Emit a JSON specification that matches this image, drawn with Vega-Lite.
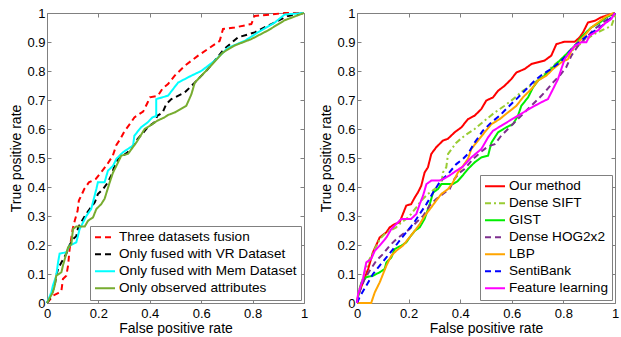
{
  "$schema": "https://vega.github.io/schema/vega-lite/v6.json",
  "padding": {"left": 9, "top": 6, "right": 4, "bottom": 4},
  "config": {
    "font": "Liberation Sans",
    "view": {"stroke": "#808080", "strokeWidth": 1},
    "axis": {"grid": false, "domain": false, "labelFontSize": 13, "titleFontSize": 14, "titleFontWeight": "normal", "labelColor": "#000", "titleColor": "#000", "tickColor": "#808080", "tickSize": -4, "labelPadding": 6, "titlePadding": 3, "labelFlush": false, "labelOverlap": false},
    "axisBottom": {"labelPadding": 8, "titlePadding": 1},
    "legend": {"orient": "bottom-right", "offset": 3, "title": null, "strokeColor": "#808080", "fillColor": "#ffffff", "padding": 4, "labelFontSize": 13.6, "labelColor": "#000", "symbolType": "stroke", "symbolStrokeWidth": 2, "symbolSize": 400, "labelOffset": 3, "rowPadding": 2, "clipHeight": 14.7, "labelLimit": 400}
  },
  "spacing": 53,
  "bounds": "flush",
  "resolve": {"scale": {"color": "independent", "strokeDash": "independent"}, "legend": {"color": "independent", "strokeDash": "independent"}},
  "datasets": {
    "left": [
      {"s":"Three datasets fusion","x":0,"y":0},{"s":"Three datasets fusion","x":0.01,"y":0.01},{"s":"Three datasets fusion","x":0.023,"y":0.025},{"s":"Three datasets fusion","x":0.043,"y":0.034},{"s":"Three datasets fusion","x":0.056,"y":0.042},{"s":"Three datasets fusion","x":0.062,"y":0.083},{"s":"Three datasets fusion","x":0.075,"y":0.094},{"s":"Three datasets fusion","x":0.082,"y":0.129},{"s":"Three datasets fusion","x":0.088,"y":0.186},{"s":"Three datasets fusion","x":0.1,"y":0.255},{"s":"Three datasets fusion","x":0.108,"y":0.284},{"s":"Three datasets fusion","x":0.119,"y":0.318},{"s":"Three datasets fusion","x":0.124,"y":0.353},{"s":"Three datasets fusion","x":0.145,"y":0.393},{"s":"Three datasets fusion","x":0.163,"y":0.416},{"s":"Three datasets fusion","x":0.19,"y":0.428},{"s":"Three datasets fusion","x":0.215,"y":0.456},{"s":"Three datasets fusion","x":0.235,"y":0.479},{"s":"Three datasets fusion","x":0.256,"y":0.508},{"s":"Three datasets fusion","x":0.27,"y":0.545},{"s":"Three datasets fusion","x":0.285,"y":0.565},{"s":"Three datasets fusion","x":0.3,"y":0.59},{"s":"Three datasets fusion","x":0.327,"y":0.623},{"s":"Three datasets fusion","x":0.34,"y":0.64},{"s":"Three datasets fusion","x":0.36,"y":0.652},{"s":"Three datasets fusion","x":0.374,"y":0.66},{"s":"Three datasets fusion","x":0.392,"y":0.692},{"s":"Three datasets fusion","x":0.4,"y":0.709},{"s":"Three datasets fusion","x":0.432,"y":0.715},{"s":"Three datasets fusion","x":0.45,"y":0.74},{"s":"Three datasets fusion","x":0.471,"y":0.755},{"s":"Three datasets fusion","x":0.497,"y":0.784},{"s":"Three datasets fusion","x":0.536,"y":0.818},{"s":"Three datasets fusion","x":0.588,"y":0.853},{"s":"Three datasets fusion","x":0.626,"y":0.876},{"s":"Three datasets fusion","x":0.672,"y":0.904},{"s":"Three datasets fusion","x":0.685,"y":0.945},{"s":"Three datasets fusion","x":0.73,"y":0.95},{"s":"Three datasets fusion","x":0.795,"y":0.962},{"s":"Three datasets fusion","x":0.808,"y":0.99},{"s":"Three datasets fusion","x":0.873,"y":0.995},{"s":"Three datasets fusion","x":0.925,"y":1},{"s":"Three datasets fusion","x":1,"y":1},
      {"s":"Only fused with VR Dataset","x":0,"y":0},{"s":"Only fused with VR Dataset","x":0.01,"y":0.014},{"s":"Only fused with VR Dataset","x":0.03,"y":0.06},{"s":"Only fused with VR Dataset","x":0.036,"y":0.094},{"s":"Only fused with VR Dataset","x":0.043,"y":0.117},{"s":"Only fused with VR Dataset","x":0.056,"y":0.14},{"s":"Only fused with VR Dataset","x":0.075,"y":0.17},{"s":"Only fused with VR Dataset","x":0.088,"y":0.2},{"s":"Only fused with VR Dataset","x":0.101,"y":0.22},{"s":"Only fused with VR Dataset","x":0.114,"y":0.23},{"s":"Only fused with VR Dataset","x":0.121,"y":0.26},{"s":"Only fused with VR Dataset","x":0.133,"y":0.278},{"s":"Only fused with VR Dataset","x":0.147,"y":0.3},{"s":"Only fused with VR Dataset","x":0.166,"y":0.324},{"s":"Only fused with VR Dataset","x":0.186,"y":0.347},{"s":"Only fused with VR Dataset","x":0.198,"y":0.376},{"s":"Only fused with VR Dataset","x":0.218,"y":0.393},{"s":"Only fused with VR Dataset","x":0.237,"y":0.416},{"s":"Only fused with VR Dataset","x":0.25,"y":0.44},{"s":"Only fused with VR Dataset","x":0.263,"y":0.473},{"s":"Only fused with VR Dataset","x":0.276,"y":0.497},{"s":"Only fused with VR Dataset","x":0.296,"y":0.508},{"s":"Only fused with VR Dataset","x":0.314,"y":0.52},{"s":"Only fused with VR Dataset","x":0.34,"y":0.548},{"s":"Only fused with VR Dataset","x":0.353,"y":0.566},{"s":"Only fused with VR Dataset","x":0.37,"y":0.583},{"s":"Only fused with VR Dataset","x":0.392,"y":0.606},{"s":"Only fused with VR Dataset","x":0.418,"y":0.623},{"s":"Only fused with VR Dataset","x":0.43,"y":0.646},{"s":"Only fused with VR Dataset","x":0.45,"y":0.657},{"s":"Only fused with VR Dataset","x":0.464,"y":0.686},{"s":"Only fused with VR Dataset","x":0.484,"y":0.703},{"s":"Only fused with VR Dataset","x":0.536,"y":0.726},{"s":"Only fused with VR Dataset","x":0.575,"y":0.76},{"s":"Only fused with VR Dataset","x":0.626,"y":0.807},{"s":"Only fused with VR Dataset","x":0.69,"y":0.876},{"s":"Only fused with VR Dataset","x":0.743,"y":0.916},{"s":"Only fused with VR Dataset","x":0.808,"y":0.933},{"s":"Only fused with VR Dataset","x":0.873,"y":0.962},{"s":"Only fused with VR Dataset","x":0.938,"y":0.99},{"s":"Only fused with VR Dataset","x":1,"y":1},
      {"s":"Only fused with Mem Dataset","x":0,"y":0},{"s":"Only fused with Mem Dataset","x":0.017,"y":0.037},{"s":"Only fused with Mem Dataset","x":0.023,"y":0.06},{"s":"Only fused with Mem Dataset","x":0.036,"y":0.094},{"s":"Only fused with Mem Dataset","x":0.043,"y":0.14},{"s":"Only fused with Mem Dataset","x":0.049,"y":0.17},{"s":"Only fused with Mem Dataset","x":0.075,"y":0.175},{"s":"Only fused with Mem Dataset","x":0.088,"y":0.198},{"s":"Only fused with Mem Dataset","x":0.114,"y":0.209},{"s":"Only fused with Mem Dataset","x":0.127,"y":0.255},{"s":"Only fused with Mem Dataset","x":0.153,"y":0.3},{"s":"Only fused with Mem Dataset","x":0.172,"y":0.324},{"s":"Only fused with Mem Dataset","x":0.192,"y":0.393},{"s":"Only fused with Mem Dataset","x":0.198,"y":0.416},{"s":"Only fused with Mem Dataset","x":0.224,"y":0.416},{"s":"Only fused with Mem Dataset","x":0.237,"y":0.456},{"s":"Only fused with Mem Dataset","x":0.257,"y":0.473},{"s":"Only fused with Mem Dataset","x":0.27,"y":0.497},{"s":"Only fused with Mem Dataset","x":0.296,"y":0.52},{"s":"Only fused with Mem Dataset","x":0.335,"y":0.543},{"s":"Only fused with Mem Dataset","x":0.34,"y":0.577},{"s":"Only fused with Mem Dataset","x":0.366,"y":0.606},{"s":"Only fused with Mem Dataset","x":0.392,"y":0.623},{"s":"Only fused with Mem Dataset","x":0.41,"y":0.64},{"s":"Only fused with Mem Dataset","x":0.425,"y":0.645},{"s":"Only fused with Mem Dataset","x":0.425,"y":0.703},{"s":"Only fused with Mem Dataset","x":0.471,"y":0.715},{"s":"Only fused with Mem Dataset","x":0.51,"y":0.76},{"s":"Only fused with Mem Dataset","x":0.562,"y":0.784},{"s":"Only fused with Mem Dataset","x":0.6,"y":0.8},{"s":"Only fused with Mem Dataset","x":0.652,"y":0.835},{"s":"Only fused with Mem Dataset","x":0.704,"y":0.88},{"s":"Only fused with Mem Dataset","x":0.77,"y":0.904},{"s":"Only fused with Mem Dataset","x":0.82,"y":0.933},{"s":"Only fused with Mem Dataset","x":0.886,"y":0.967},{"s":"Only fused with Mem Dataset","x":0.925,"y":0.995},{"s":"Only fused with Mem Dataset","x":1,"y":1},
      {"s":"Only observed attributes","x":0,"y":0},{"s":"Only observed attributes","x":0.023,"y":0.037},{"s":"Only observed attributes","x":0.03,"y":0.06},{"s":"Only observed attributes","x":0.036,"y":0.094},{"s":"Only observed attributes","x":0.056,"y":0.106},{"s":"Only observed attributes","x":0.062,"y":0.129},{"s":"Only observed attributes","x":0.082,"y":0.192},{"s":"Only observed attributes","x":0.095,"y":0.203},{"s":"Only observed attributes","x":0.101,"y":0.255},{"s":"Only observed attributes","x":0.114,"y":0.264},{"s":"Only observed attributes","x":0.147,"y":0.264},{"s":"Only observed attributes","x":0.16,"y":0.284},{"s":"Only observed attributes","x":0.179,"y":0.295},{"s":"Only observed attributes","x":0.192,"y":0.324},{"s":"Only observed attributes","x":0.211,"y":0.341},{"s":"Only observed attributes","x":0.224,"y":0.359},{"s":"Only observed attributes","x":0.244,"y":0.416},{"s":"Only observed attributes","x":0.257,"y":0.45},{"s":"Only observed attributes","x":0.27,"y":0.473},{"s":"Only observed attributes","x":0.289,"y":0.508},{"s":"Only observed attributes","x":0.315,"y":0.514},{"s":"Only observed attributes","x":0.348,"y":0.554},{"s":"Only observed attributes","x":0.38,"y":0.6},{"s":"Only observed attributes","x":0.4,"y":0.611},{"s":"Only observed attributes","x":0.43,"y":0.629},{"s":"Only observed attributes","x":0.457,"y":0.64},{"s":"Only observed attributes","x":0.47,"y":0.648},{"s":"Only observed attributes","x":0.497,"y":0.657},{"s":"Only observed attributes","x":0.542,"y":0.68},{"s":"Only observed attributes","x":0.562,"y":0.72},{"s":"Only observed attributes","x":0.575,"y":0.76},{"s":"Only observed attributes","x":0.626,"y":0.807},{"s":"Only observed attributes","x":0.685,"y":0.864},{"s":"Only observed attributes","x":0.73,"y":0.888},{"s":"Only observed attributes","x":0.795,"y":0.91},{"s":"Only observed attributes","x":0.86,"y":0.94},{"s":"Only observed attributes","x":0.925,"y":0.975},{"s":"Only observed attributes","x":1,"y":1}
    ],
    "right": [
      {"s":"Our method","x":0,"y":0},{"s":"Our method","x":0.004,"y":0.025},{"s":"Our method","x":0.023,"y":0.071},{"s":"Our method","x":0.043,"y":0.117},{"s":"Our method","x":0.062,"y":0.175},{"s":"Our method","x":0.088,"y":0.226},{"s":"Our method","x":0.114,"y":0.244},{"s":"Our method","x":0.127,"y":0.261},{"s":"Our method","x":0.146,"y":0.272},{"s":"Our method","x":0.165,"y":0.278},{"s":"Our method","x":0.178,"y":0.307},{"s":"Our method","x":0.191,"y":0.336},{"s":"Our method","x":0.21,"y":0.341},{"s":"Our method","x":0.224,"y":0.364},{"s":"Our method","x":0.236,"y":0.381},{"s":"Our method","x":0.249,"y":0.404},{"s":"Our method","x":0.262,"y":0.45},{"s":"Our method","x":0.275,"y":0.468},{"s":"Our method","x":0.288,"y":0.514},{"s":"Our method","x":0.307,"y":0.537},{"s":"Our method","x":0.333,"y":0.56},{"s":"Our method","x":0.352,"y":0.566},{"s":"Our method","x":0.379,"y":0.589},{"s":"Our method","x":0.405,"y":0.606},{"s":"Our method","x":0.43,"y":0.634},{"s":"Our method","x":0.456,"y":0.646},{"s":"Our method","x":0.482,"y":0.669},{"s":"Our method","x":0.501,"y":0.698},{"s":"Our method","x":0.527,"y":0.709},{"s":"Our method","x":0.547,"y":0.732},{"s":"Our method","x":0.572,"y":0.749},{"s":"Our method","x":0.598,"y":0.772},{"s":"Our method","x":0.618,"y":0.795},{"s":"Our method","x":0.65,"y":0.807},{"s":"Our method","x":0.676,"y":0.824},{"s":"Our method","x":0.702,"y":0.83},{"s":"Our method","x":0.727,"y":0.836},{"s":"Our method","x":0.753,"y":0.853},{"s":"Our method","x":0.773,"y":0.893},{"s":"Our method","x":0.805,"y":0.901},{"s":"Our method","x":0.844,"y":0.901},{"s":"Our method","x":0.863,"y":0.916},{"s":"Our method","x":0.876,"y":0.933},{"s":"Our method","x":0.895,"y":0.967},{"s":"Our method","x":0.921,"y":0.973},{"s":"Our method","x":0.946,"y":0.985},{"s":"Our method","x":0.986,"y":0.997},{"s":"Our method","x":1,"y":1},
      {"s":"Dense SIFT","x":0,"y":0},{"s":"Dense SIFT","x":0.01,"y":0.05},{"s":"Dense SIFT","x":0.03,"y":0.106},{"s":"Dense SIFT","x":0.049,"y":0.152},{"s":"Dense SIFT","x":0.069,"y":0.186},{"s":"Dense SIFT","x":0.088,"y":0.22},{"s":"Dense SIFT","x":0.107,"y":0.238},{"s":"Dense SIFT","x":0.127,"y":0.249},{"s":"Dense SIFT","x":0.152,"y":0.261},{"s":"Dense SIFT","x":0.172,"y":0.278},{"s":"Dense SIFT","x":0.191,"y":0.29},{"s":"Dense SIFT","x":0.21,"y":0.307},{"s":"Dense SIFT","x":0.23,"y":0.33},{"s":"Dense SIFT","x":0.249,"y":0.353},{"s":"Dense SIFT","x":0.275,"y":0.376},{"s":"Dense SIFT","x":0.301,"y":0.393},{"s":"Dense SIFT","x":0.327,"y":0.41},{"s":"Dense SIFT","x":0.333,"y":0.45},{"s":"Dense SIFT","x":0.346,"y":0.468},{"s":"Dense SIFT","x":0.353,"y":0.514},{"s":"Dense SIFT","x":0.385,"y":0.553},{"s":"Dense SIFT","x":0.417,"y":0.577},{"s":"Dense SIFT","x":0.456,"y":0.6},{"s":"Dense SIFT","x":0.495,"y":0.629},{"s":"Dense SIFT","x":0.534,"y":0.657},{"s":"Dense SIFT","x":0.572,"y":0.68},{"s":"Dense SIFT","x":0.605,"y":0.703},{"s":"Dense SIFT","x":0.643,"y":0.732},{"s":"Dense SIFT","x":0.682,"y":0.755},{"s":"Dense SIFT","x":0.721,"y":0.784},{"s":"Dense SIFT","x":0.76,"y":0.818},{"s":"Dense SIFT","x":0.792,"y":0.841},{"s":"Dense SIFT","x":0.824,"y":0.864},{"s":"Dense SIFT","x":0.857,"y":0.887},{"s":"Dense SIFT","x":0.889,"y":0.91},{"s":"Dense SIFT","x":0.921,"y":0.928},{"s":"Dense SIFT","x":0.96,"y":0.945},{"s":"Dense SIFT","x":0.986,"y":0.955},{"s":"Dense SIFT","x":1,"y":0.99},{"s":"Dense SIFT","x":1,"y":1},
      {"s":"GIST","x":0,"y":0},{"s":"GIST","x":0.004,"y":0.02},{"s":"GIST","x":0.017,"y":0.071},{"s":"GIST","x":0.036,"y":0.089},{"s":"GIST","x":0.062,"y":0.094},{"s":"GIST","x":0.088,"y":0.106},{"s":"GIST","x":0.107,"y":0.117},{"s":"GIST","x":0.114,"y":0.14},{"s":"GIST","x":0.133,"y":0.157},{"s":"GIST","x":0.146,"y":0.186},{"s":"GIST","x":0.172,"y":0.198},{"s":"GIST","x":0.191,"y":0.209},{"s":"GIST","x":0.204,"y":0.226},{"s":"GIST","x":0.224,"y":0.249},{"s":"GIST","x":0.243,"y":0.261},{"s":"GIST","x":0.262,"y":0.29},{"s":"GIST","x":0.282,"y":0.341},{"s":"GIST","x":0.295,"y":0.381},{"s":"GIST","x":0.314,"y":0.393},{"s":"GIST","x":0.327,"y":0.41},{"s":"GIST","x":0.372,"y":0.41},{"s":"GIST","x":0.39,"y":0.42},{"s":"GIST","x":0.41,"y":0.44},{"s":"GIST","x":0.43,"y":0.462},{"s":"GIST","x":0.456,"y":0.485},{"s":"GIST","x":0.482,"y":0.502},{"s":"GIST","x":0.508,"y":0.508},{"s":"GIST","x":0.521,"y":0.553},{"s":"GIST","x":0.547,"y":0.589},{"s":"GIST","x":0.579,"y":0.606},{"s":"GIST","x":0.605,"y":0.617},{"s":"GIST","x":0.624,"y":0.646},{"s":"GIST","x":0.637,"y":0.68},{"s":"GIST","x":0.663,"y":0.709},{"s":"GIST","x":0.682,"y":0.743},{"s":"GIST","x":0.702,"y":0.767},{"s":"GIST","x":0.727,"y":0.784},{"s":"GIST","x":0.753,"y":0.807},{"s":"GIST","x":0.786,"y":0.836},{"s":"GIST","x":0.818,"y":0.864},{"s":"GIST","x":0.844,"y":0.887},{"s":"GIST","x":0.863,"y":0.91},{"s":"GIST","x":0.882,"y":0.928},{"s":"GIST","x":0.908,"y":0.95},{"s":"GIST","x":0.941,"y":0.967},{"s":"GIST","x":0.966,"y":0.985},{"s":"GIST","x":1,"y":1},
      {"s":"Dense HOG2x2","x":0,"y":0},{"s":"Dense HOG2x2","x":0.01,"y":0.04},{"s":"Dense HOG2x2","x":0.03,"y":0.083},{"s":"Dense HOG2x2","x":0.049,"y":0.111},{"s":"Dense HOG2x2","x":0.075,"y":0.146},{"s":"Dense HOG2x2","x":0.101,"y":0.169},{"s":"Dense HOG2x2","x":0.127,"y":0.198},{"s":"Dense HOG2x2","x":0.152,"y":0.22},{"s":"Dense HOG2x2","x":0.178,"y":0.238},{"s":"Dense HOG2x2","x":0.204,"y":0.255},{"s":"Dense HOG2x2","x":0.23,"y":0.278},{"s":"Dense HOG2x2","x":0.256,"y":0.3},{"s":"Dense HOG2x2","x":0.282,"y":0.336},{"s":"Dense HOG2x2","x":0.307,"y":0.359},{"s":"Dense HOG2x2","x":0.333,"y":0.376},{"s":"Dense HOG2x2","x":0.359,"y":0.393},{"s":"Dense HOG2x2","x":0.378,"y":0.428},{"s":"Dense HOG2x2","x":0.398,"y":0.45},{"s":"Dense HOG2x2","x":0.417,"y":0.462},{"s":"Dense HOG2x2","x":0.45,"y":0.497},{"s":"Dense HOG2x2","x":0.482,"y":0.522},{"s":"Dense HOG2x2","x":0.508,"y":0.54},{"s":"Dense HOG2x2","x":0.534,"y":0.548},{"s":"Dense HOG2x2","x":0.559,"y":0.577},{"s":"Dense HOG2x2","x":0.585,"y":0.6},{"s":"Dense HOG2x2","x":0.611,"y":0.623},{"s":"Dense HOG2x2","x":0.637,"y":0.646},{"s":"Dense HOG2x2","x":0.669,"y":0.675},{"s":"Dense HOG2x2","x":0.702,"y":0.703},{"s":"Dense HOG2x2","x":0.727,"y":0.726},{"s":"Dense HOG2x2","x":0.76,"y":0.761},{"s":"Dense HOG2x2","x":0.786,"y":0.784},{"s":"Dense HOG2x2","x":0.811,"y":0.813},{"s":"Dense HOG2x2","x":0.831,"y":0.853},{"s":"Dense HOG2x2","x":0.857,"y":0.887},{"s":"Dense HOG2x2","x":0.889,"y":0.916},{"s":"Dense HOG2x2","x":0.921,"y":0.945},{"s":"Dense HOG2x2","x":0.953,"y":0.967},{"s":"Dense HOG2x2","x":0.979,"y":0.985},{"s":"Dense HOG2x2","x":1,"y":1},
      {"s":"LBP","x":0,"y":0},{"s":"LBP","x":0.055,"y":0},{"s":"LBP","x":0.069,"y":0.037},{"s":"LBP","x":0.088,"y":0.071},{"s":"LBP","x":0.101,"y":0.1},{"s":"LBP","x":0.114,"y":0.129},{"s":"LBP","x":0.133,"y":0.163},{"s":"LBP","x":0.152,"y":0.18},{"s":"LBP","x":0.178,"y":0.198},{"s":"LBP","x":0.198,"y":0.22},{"s":"LBP","x":0.224,"y":0.249},{"s":"LBP","x":0.243,"y":0.272},{"s":"LBP","x":0.262,"y":0.3},{"s":"LBP","x":0.288,"y":0.33},{"s":"LBP","x":0.307,"y":0.353},{"s":"LBP","x":0.327,"y":0.376},{"s":"LBP","x":0.353,"y":0.393},{"s":"LBP","x":0.372,"y":0.416},{"s":"LBP","x":0.391,"y":0.45},{"s":"LBP","x":0.411,"y":0.473},{"s":"LBP","x":0.43,"y":0.497},{"s":"LBP","x":0.443,"y":0.531},{"s":"LBP","x":0.469,"y":0.56},{"s":"LBP","x":0.495,"y":0.589},{"s":"LBP","x":0.521,"y":0.617},{"s":"LBP","x":0.553,"y":0.634},{"s":"LBP","x":0.585,"y":0.657},{"s":"LBP","x":0.618,"y":0.68},{"s":"LBP","x":0.643,"y":0.709},{"s":"LBP","x":0.676,"y":0.738},{"s":"LBP","x":0.702,"y":0.767},{"s":"LBP","x":0.734,"y":0.784},{"s":"LBP","x":0.76,"y":0.807},{"s":"LBP","x":0.792,"y":0.83},{"s":"LBP","x":0.818,"y":0.841},{"s":"LBP","x":0.831,"y":0.87},{"s":"LBP","x":0.857,"y":0.899},{"s":"LBP","x":0.882,"y":0.922},{"s":"LBP","x":0.908,"y":0.95},{"s":"LBP","x":0.934,"y":0.967},{"s":"LBP","x":0.96,"y":0.985},{"s":"LBP","x":0.986,"y":0.997},{"s":"LBP","x":1,"y":1},
      {"s":"SentiBank","x":0,"y":0},{"s":"SentiBank","x":0.01,"y":0.02},{"s":"SentiBank","x":0.036,"y":0.06},{"s":"SentiBank","x":0.062,"y":0.1},{"s":"SentiBank","x":0.088,"y":0.129},{"s":"SentiBank","x":0.114,"y":0.157},{"s":"SentiBank","x":0.14,"y":0.186},{"s":"SentiBank","x":0.165,"y":0.215},{"s":"SentiBank","x":0.191,"y":0.244},{"s":"SentiBank","x":0.217,"y":0.272},{"s":"SentiBank","x":0.243,"y":0.307},{"s":"SentiBank","x":0.269,"y":0.341},{"s":"SentiBank","x":0.295,"y":0.381},{"s":"SentiBank","x":0.32,"y":0.416},{"s":"SentiBank","x":0.353,"y":0.445},{"s":"SentiBank","x":0.385,"y":0.479},{"s":"SentiBank","x":0.411,"y":0.497},{"s":"SentiBank","x":0.43,"y":0.514},{"s":"SentiBank","x":0.456,"y":0.553},{"s":"SentiBank","x":0.488,"y":0.594},{"s":"SentiBank","x":0.521,"y":0.623},{"s":"SentiBank","x":0.553,"y":0.646},{"s":"SentiBank","x":0.585,"y":0.675},{"s":"SentiBank","x":0.618,"y":0.703},{"s":"SentiBank","x":0.65,"y":0.732},{"s":"SentiBank","x":0.689,"y":0.767},{"s":"SentiBank","x":0.721,"y":0.79},{"s":"SentiBank","x":0.753,"y":0.807},{"s":"SentiBank","x":0.786,"y":0.83},{"s":"SentiBank","x":0.811,"y":0.853},{"s":"SentiBank","x":0.837,"y":0.882},{"s":"SentiBank","x":0.869,"y":0.905},{"s":"SentiBank","x":0.902,"y":0.928},{"s":"SentiBank","x":0.934,"y":0.945},{"s":"SentiBank","x":0.966,"y":0.967},{"s":"SentiBank","x":0.992,"y":0.99},{"s":"SentiBank","x":1,"y":1},
      {"s":"Feature learning","x":0,"y":0},{"s":"Feature learning","x":0.004,"y":0.03},{"s":"Feature learning","x":0.023,"y":0.083},{"s":"Feature learning","x":0.036,"y":0.14},{"s":"Feature learning","x":0.055,"y":0.152},{"s":"Feature learning","x":0.069,"y":0.18},{"s":"Feature learning","x":0.088,"y":0.198},{"s":"Feature learning","x":0.114,"y":0.226},{"s":"Feature learning","x":0.133,"y":0.255},{"s":"Feature learning","x":0.152,"y":0.272},{"s":"Feature learning","x":0.172,"y":0.29},{"s":"Feature learning","x":0.21,"y":0.29},{"s":"Feature learning","x":0.23,"y":0.307},{"s":"Feature learning","x":0.243,"y":0.341},{"s":"Feature learning","x":0.256,"y":0.37},{"s":"Feature learning","x":0.269,"y":0.41},{"s":"Feature learning","x":0.288,"y":0.422},{"s":"Feature learning","x":0.32,"y":0.422},{"s":"Feature learning","x":0.34,"y":0.43},{"s":"Feature learning","x":0.359,"y":0.44},{"s":"Feature learning","x":0.385,"y":0.456},{"s":"Feature learning","x":0.41,"y":0.47},{"s":"Feature learning","x":0.443,"y":0.502},{"s":"Feature learning","x":0.482,"y":0.531},{"s":"Feature learning","x":0.508,"y":0.571},{"s":"Feature learning","x":0.527,"y":0.594},{"s":"Feature learning","x":0.559,"y":0.611},{"s":"Feature learning","x":0.592,"y":0.629},{"s":"Feature learning","x":0.624,"y":0.646},{"s":"Feature learning","x":0.656,"y":0.663},{"s":"Feature learning","x":0.689,"y":0.68},{"s":"Feature learning","x":0.714,"y":0.692},{"s":"Feature learning","x":0.74,"y":0.703},{"s":"Feature learning","x":0.76,"y":0.738},{"s":"Feature learning","x":0.779,"y":0.772},{"s":"Feature learning","x":0.792,"y":0.807},{"s":"Feature learning","x":0.805,"y":0.841},{"s":"Feature learning","x":0.824,"y":0.864},{"s":"Feature learning","x":0.844,"y":0.887},{"s":"Feature learning","x":0.87,"y":0.899},{"s":"Feature learning","x":0.889,"y":0.899},{"s":"Feature learning","x":0.902,"y":0.922},{"s":"Feature learning","x":0.934,"y":0.94},{"s":"Feature learning","x":0.96,"y":0.963},{"s":"Feature learning","x":0.986,"y":0.98},{"s":"Feature learning","x":1,"y":1}
    ]
  },
  "hconcat": [
    {
      "width": 257, "height": 290,
      "data": {"name": "left"},
      "layer": [
        {
          "mark": {"type": "line", "strokeWidth": 2},
          "encoding": {
            "x": {"field": "x", "type": "quantitative", "scale": {"domain": [0, 1], "nice": false}, "axis": {"orient": "bottom", "values": [0, 0.2, 0.4, 0.6, 0.8, 1], "format": "~g", "title": "False positive rate"}},
            "y": {"field": "y", "type": "quantitative", "scale": {"domain": [0, 1], "nice": false}, "axis": {"orient": "left", "values": [0, 0.1, 0.2, 0.3, 0.4, 0.5, 0.6, 0.7, 0.8, 0.9, 1], "format": "~g", "title": "True positive rate"}},
            "color": {"field": "s", "type": "nominal", "scale": {"domain": ["Three datasets fusion", "Only fused with VR Dataset", "Only fused with Mem Dataset", "Only observed attributes"], "range": ["#ff0000", "#000000", "#00ffff", "#77ac30"]}, "legend": {"title": null}},
            "strokeDash": {"field": "s", "type": "nominal", "scale": {"domain": ["Three datasets fusion", "Only fused with VR Dataset", "Only fused with Mem Dataset", "Only observed attributes"], "range": [[6, 4], [6, 4], [1, 0], [1, 0]]}, "legend": {"title": null}},
            "order": [{"field": "x", "type": "quantitative"}, {"field": "y", "type": "quantitative"}]
          }
        },
        {
          "mark": {"type": "point", "opacity": 0},
          "encoding": {
            "x": {"field": "x", "type": "quantitative", "axis": {"orient": "top", "labels": false, "title": null, "values": [0, 0.2, 0.4, 0.6, 0.8, 1]}},
            "y": {"field": "y", "type": "quantitative", "axis": {"orient": "right", "labels": false, "title": null, "values": [0, 0.1, 0.2, 0.3, 0.4, 0.5, 0.6, 0.7, 0.8, 0.9, 1]}}
          }
        }
      ],
      "resolve": {"axis": {"x": "independent", "y": "independent"}}
    },
    {
      "width": 258, "height": 290,
      "data": {"name": "right"},
      "layer": [
        {
          "mark": {"type": "line", "strokeWidth": 2},
          "encoding": {
            "x": {"field": "x", "type": "quantitative", "scale": {"domain": [0, 1], "nice": false}, "axis": {"orient": "bottom", "values": [0, 0.2, 0.4, 0.6, 0.8, 1], "format": "~g", "title": "False positive rate"}},
            "y": {"field": "y", "type": "quantitative", "scale": {"domain": [0, 1], "nice": false}, "axis": {"orient": "left", "values": [0, 0.1, 0.2, 0.3, 0.4, 0.5, 0.6, 0.7, 0.8, 0.9, 1], "format": "~g", "title": "True positive rate"}},
            "color": {"field": "s", "type": "nominal", "scale": {"domain": ["Our method", "Dense SIFT", "GIST", "Dense HOG2x2", "LBP", "SentiBank", "Feature learning"], "range": ["#ff0000", "#99cc33", "#00ee00", "#7e2f8e", "#ffa500", "#0000ff", "#ff00ff"]}, "legend": {"title": null}},
            "strokeDash": {"field": "s", "type": "nominal", "scale": {"domain": ["Our method", "Dense SIFT", "GIST", "Dense HOG2x2", "LBP", "SentiBank", "Feature learning"], "range": [[1, 0], [6, 3, 2, 3], [1, 0], [6, 4], [1, 0], [6, 4], [1, 0]]}, "legend": {"title": null}},
            "order": [{"field": "x", "type": "quantitative"}, {"field": "y", "type": "quantitative"}]
          }
        },
        {
          "mark": {"type": "point", "opacity": 0},
          "encoding": {
            "x": {"field": "x", "type": "quantitative", "axis": {"orient": "top", "labels": false, "title": null, "values": [0, 0.2, 0.4, 0.6, 0.8, 1]}},
            "y": {"field": "y", "type": "quantitative", "axis": {"orient": "right", "labels": false, "title": null, "values": [0, 0.1, 0.2, 0.3, 0.4, 0.5, 0.6, 0.7, 0.8, 0.9, 1]}}
          }
        }
      ],
      "resolve": {"axis": {"x": "independent", "y": "independent"}}
    }
  ]
}
